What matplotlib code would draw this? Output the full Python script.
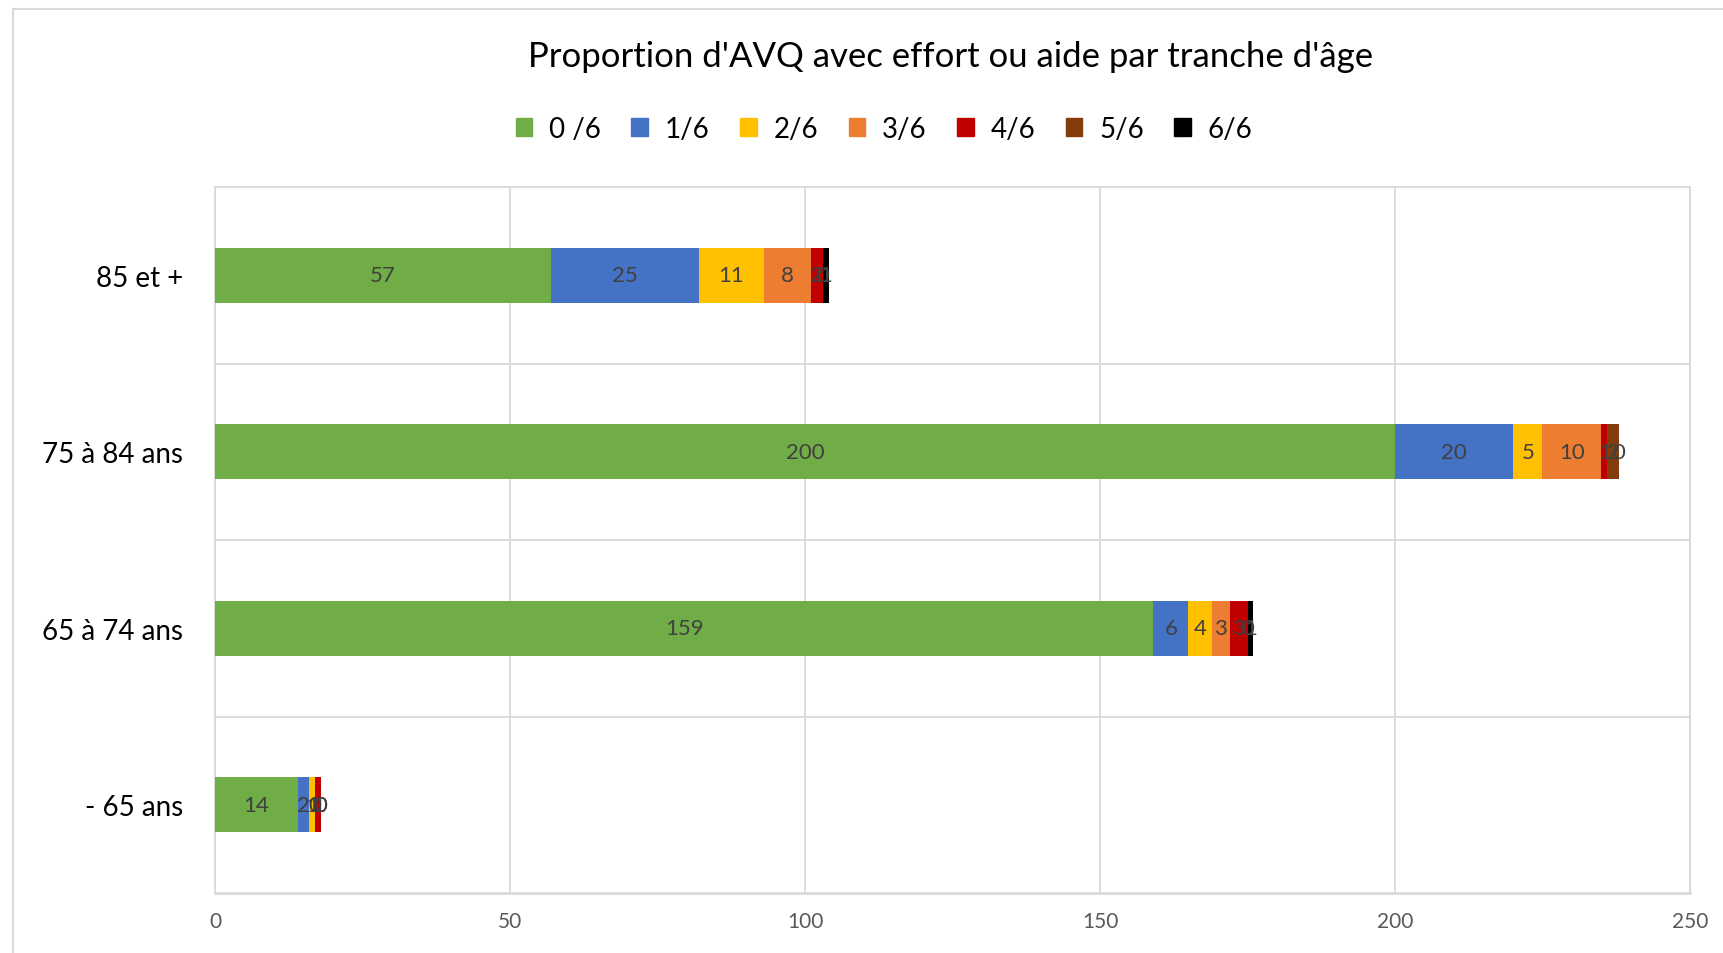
import matplotlib.pyplot as plt
import numpy as np
from matplotlib.patches import Rectangle
from matplotlib.lines import Line2D

plt.rcParams['font.family'] = ['Lato', 'DejaVu Sans']

categories = ["- 65 ans", "65 à 74 ans", "75 à 84 ans", "85 et +"]
series_names = ["0 /6", "1/6", "2/6", "3/6", "4/6", "5/6", "6/6"]
s0 = [14, 159, 200, 57]
s1 = [2, 6, 20, 25]
s2 = [1, 4, 5, 11]
s3 = [0, 3, 10, 8]
s4 = [1, 3, 1, 2]
s5 = [0, 0, 2, 0]
s6 = [0, 1, 0, 1]
series = [s0, s1, s2, s3, s4, s5, s6]
colors = ['#70AD47', '#4472C4', '#FFC000', '#ED7D31', '#C00000', '#843C0C', '#000000']

fig = plt.figure(figsize=(17.24, 9.54), dpi=100)
ax = fig.add_axes([215/1724, 1-894/954, (1690-215)/1724, (894-188)/954])

y = np.arange(len(categories))
left = np.zeros(len(categories))
for vals, col in zip(series, colors):
    vals = np.array(vals, dtype=float)
    ax.barh(y, vals, left=left, height=0.31, color=col, zorder=3)
    # Excel affiche aussi les etiquettes des valeurs nulles
    for yi, l, v in zip(y, left, vals):
        ax.text(l + v/2, yi, f"{int(v)}", ha='center', va='center',
                fontsize=16, color='#404040', zorder=4)
    left += vals

ax.set_xlim(0, 250)
ax.set_ylim(-0.5, 3.5)
ax.set_xticks(np.arange(0, 251, 50))
ax.set_yticks(y)
ax.set_yticklabels(categories, fontsize=20)
ax.tick_params(axis='x', labelsize=15, colors='#595959', length=0, pad=13)
ax.tick_params(axis='y', length=0, pad=23, labelcolor='black')
ax.grid(axis='x', color='#D9D9D9', linewidth=1.3, zorder=0)
for b in [0.5, 1.5, 2.5]:
    ax.axhline(b, color='#D9D9D9', linewidth=1.3, zorder=0)
for s in ax.spines.values():
    s.set_color('#D9D9D9')
    s.set_linewidth(1.3)
ax.spines['bottom'].set_linewidth(2)

fig.text(951/1724, 1-57/954, "Proportion d'AVQ avec effort ou aide par tranche d'âge",
         ha='center', va='center', fontsize=25)

handles = [Rectangle((0, 0), 1, 1, color=c) for c in colors]
fig.legend(handles, series_names, loc='center', bbox_to_anchor=(884/1724, 1-130/954),
           ncol=7, frameon=False, fontsize=20, handlelength=0.6, handleheight=0.6,
           columnspacing=1.1, handletextpad=0.6)

# cadre exterieur du graphique
fig.add_artist(Line2D([13/1724, 13/1724], [0, 1-10/954], color='#D9D9D9', linewidth=1.5))
fig.add_artist(Line2D([13/1724, 1], [1-10/954, 1-10/954], color='#D9D9D9', linewidth=1.5))

plt.savefig("out.png", dpi=100)
